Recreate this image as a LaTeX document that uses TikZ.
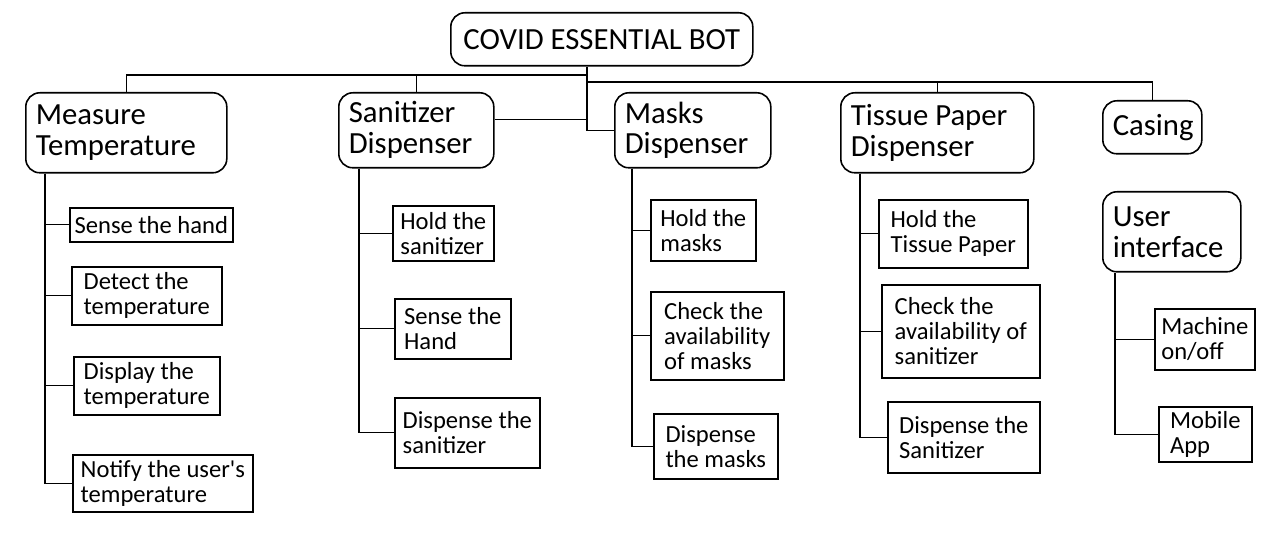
\documentclass[tikz,border=0pt]{standalone}
\usepackage{fontspec}
\setmainfont{Carlito}
\usetikzlibrary{positioning}
\newdimen\px
\px=0.02cm
\tikzset{
  topic/.style={draw, line width=0.9pt, rounded corners=8pt, anchor=north west, align=flush left,
    inner xsep=10\px, inner ysep=0pt, font=\fontsize{17.5}{17.6}\selectfont},
  leaf/.style={draw, line width=0.9pt, anchor=north west, align=flush left,
    inner sep=0pt, font=\fontsize{14}{14.2}\selectfont},
  link/.style={line width=0.8pt}
}

\begin{document}
\begin{tikzpicture}[x=0.02cm, y=-0.02cm]
  \useasboundingbox (0,0) rectangle (1280,540);

  % root and main functions
  \node[topic, minimum width=302\px, minimum height=53\px, align=center] (root) at (450,12) {COVID ESSENTIAL BOT};
  \node[topic, text width=181\px, minimum height=80\px] (mt) at (25,92) {Measure\\Temperature};
  \node[topic, text width=135\px, minimum height=75\px] (sd) at (338,92) {Sanitizer\\Dispenser};
  \node[topic, text width=136\px, minimum height=75\px] (md) at (614,92) {Masks\\Dispenser};
  \node[topic, text width=173\px, minimum height=80\px] (tp) at (840,92) {Tissue Paper\\Dispenser};
  \node[topic, text width=79\px, minimum height=53\px] (cs) at (1102,100) {Casing};
  \node[topic, text width=118\px, minimum height=80\px] (ui) at (1102,191) {User\\interface};

  % measure temperature
  \node[leaf, minimum width=163\px, minimum height=34\px] (mt1) at (69,207) {Sense the hand};
  \node[leaf, minimum width=150\px, minimum height=58\px] (mt2) at (71,266) {Detect the\\temperature};
  \node[leaf, minimum width=146\px, minimum height=58\px] (mt3) at (73,356) {Display the\\temperature};
  \node[leaf, minimum width=180\px, minimum height=57\px] (mt4) at (72,454) {Notify the user\textquotesingle s\\temperature};

  % sanitizer
  \node[leaf, minimum width=101\px, minimum height=55\px] (sd1) at (392,205) {Hold the\\sanitizer};
  \node[leaf, minimum width=116\px, minimum height=60\px] (sd2) at (394,298) {Sense the\\Hand};
  \node[leaf, minimum width=145\px, minimum height=70\px] (sd3) at (394,397) {Dispense the\\sanitizer};

  % masks
  \node[leaf, minimum width=105\px, minimum height=61\px] (md1) at (650,199) {Hold the\\masks};
  \node[leaf, minimum width=133\px, minimum height=88\px] (md2) at (650,291) {Check the\\availability\\of masks};
  \node[leaf, minimum width=124\px, minimum height=65\px] (md3) at (653,413) {Dispense\\the masks};

  % tissue paper
  \node[leaf, minimum width=149\px, minimum height=68\px] (tp1) at (878,199) {Hold the\\Tissue Paper};
  \node[leaf, minimum width=158\px, minimum height=93\px] (tp2) at (881,284) {Check the\\availability of\\sanitizer};
  \node[leaf, minimum width=152\px, minimum height=71\px] (tp3) at (887,401) {Dispense the\\Sanitizer};

  % user interface
  \node[leaf, minimum width=100\px, minimum height=61\px] (ui1) at (1154,308) {Machine\\on/off};
  \node[leaf, minimum width=93\px, minimum height=55\px] (ui2) at (1158,406) {Mobile\\App};

  % top level links
  \coordinate (hub) at (587,75);
  \coordinate (hubr) at (587,82);
  \draw[link] (mt.north) |- (hub);
  \draw[link] (sd.north) -- (sd.north |- hub);
  \draw[link] (root.south -| hub) |- (md.west);
  \draw[link] (sd.east) ++(0,-11) coordinate (sdr) -- (sdr -| hub);
  \draw[link] (hubr) -| (cs.north);
  \draw[link] (tp.north) -- (tp.north |- hubr);

  % sub level links
  \foreach \cat/\dx/\n in {mt/20/4, sd/21/3, md/18/3, tp/20/3, ui/13/2} {
    \coordinate (\cat t) at ([xshift=\dx\px]\cat.south west);
    \foreach \i in {1,...,\n}
      \draw[link] (\cat t) |- (\cat\i.west);
  }
\end{tikzpicture}
\end{document}
